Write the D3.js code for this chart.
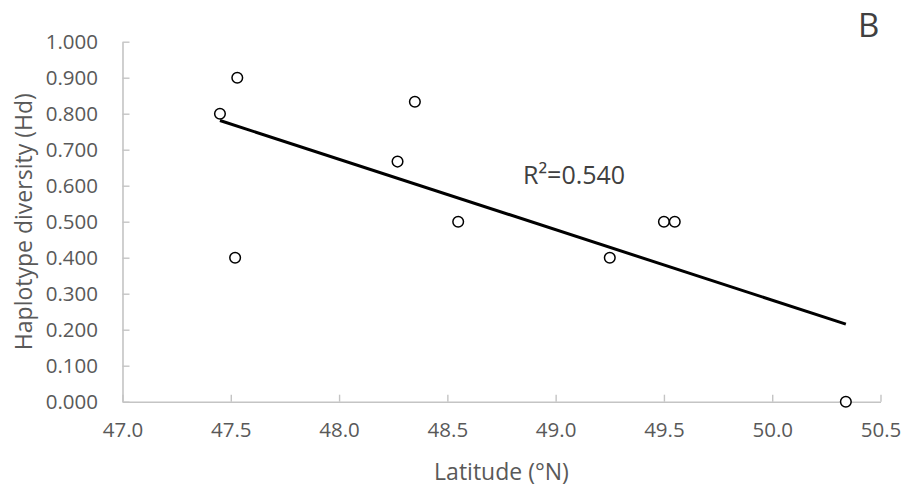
<!DOCTYPE html>
<html>
<head>
<meta charset="utf-8">
<script src="https://cdn.jsdelivr.net/npm/d3@7"></script>
<style>
  html, body { margin: 0; padding: 0; background: #fff; }
  svg { display: block; font-family: "Open Sans", sans-serif; }
</style>
</head>
<body>
<svg id="chart" width="905" height="486"></svg>
<script>
// Data
const latitude = [47.45, 47.53, 47.52, 48.35, 48.27, 48.55, 49.25, 49.50, 49.55, 50.34];
const haplotypeDiversity = [0.800, 0.900, 0.400, 0.833, 0.667, 0.500, 0.400, 0.500, 0.500, 0.000];
const xTicks = [47.0, 47.5, 48.0, 48.5, 49.0, 49.5, 50.0, 50.5];
const yTicks = [0, 0.1, 0.2, 0.3, 0.4, 0.5, 0.6, 0.7, 0.8, 0.9, 1.0];
const r2Label = "R\u00B2=0.540";
const panelLabel = "B";
const xTitle = "Latitude (\u00B0N)";
const yTitle = "Haplotype diversity (Hd)";

const svg = d3.select("#chart");
const margin = { left: 122.5, right: 905 - 880.5, top: 41.7, bottom: 486 - 401.7 };
const W = 905, H = 486;

const x = d3.scaleLinear().domain([47.0, 50.5]).range([margin.left, W - margin.right]);
const y = d3.scaleLinear().domain([0, 1]).range([H - margin.bottom, margin.top]);

const axisColor = "#c4c4c4";
const textColor = "#595959";

// X axis
const gx = svg.append("g")
  .attr("transform", `translate(0,${y(0)})`)
  .call(d3.axisBottom(x).tickValues(xTicks).tickFormat(d3.format(".1f"))
        .tickSizeInner(-7).tickSizeOuter(0).tickPadding(21));
gx.select(".domain").attr("stroke", axisColor).attr("stroke-width", 1.6);
gx.selectAll(".tick line").attr("stroke", axisColor).attr("stroke-width", 1.4);
gx.selectAll(".tick text").attr("fill", textColor).style("font-size", "20.5px")
  .style("font-family", "'Open Sans', sans-serif");

// Y axis
const gy = svg.append("g")
  .attr("transform", `translate(${x(47.0)},0)`)
  .call(d3.axisLeft(y).tickValues(yTicks).tickFormat(d3.format(".3f"))
        .tickSizeInner(-7).tickSizeOuter(0).tickPadding(24.5));
gy.select(".domain").attr("stroke", axisColor).attr("stroke-width", 1.6);
gy.selectAll(".tick line").attr("stroke", axisColor).attr("stroke-width", 1.4);
gy.selectAll(".tick text").attr("fill", textColor).style("font-size", "20.5px")
  .style("font-family", "'Open Sans', sans-serif");

// Linear trend line (least squares from data)
const pts = latitude.map((d, i) => [d, haplotypeDiversity[i]]);
const mx = d3.mean(latitude), my = d3.mean(haplotypeDiversity);
const sxy = d3.sum(pts, p => (p[0] - mx) * (p[1] - my));
const sxx = d3.sum(pts, p => (p[0] - mx) ** 2);
const slope = sxy / sxx, intercept = my - slope * mx;
const [xmin, xmax] = d3.extent(latitude);
const trend = [[xmin, intercept + slope * xmin], [xmax, intercept + slope * xmax]];

svg.append("path")
  .datum(trend)
  .attr("d", d3.line().x(d => x(d[0])).y(d => y(d[1])))
  .attr("fill", "none")
  .attr("stroke", "#000")
  .attr("stroke-width", 3);

// Points
svg.append("g").selectAll("circle")
  .data(pts)
  .join("circle")
  .attr("cx", d => x(d[0]))
  .attr("cy", d => y(d[1]))
  .attr("r", 5.3)
  .attr("fill", "#fff")
  .attr("stroke", "#000")
  .attr("stroke-width", 1.5);

// R^2 label
svg.append("text")
  .attr("x", 523)
  .attr("y", 184)
  .attr("fill", "#404040")
  .style("font-size", "25px")
  .text(r2Label);

// Panel label
svg.append("text")
  .attr("x", 858)
  .attr("y", 36.5)
  .attr("fill", "#404040")
  .style("font-size", "33px")
  .text(panelLabel);

// Axis titles
svg.append("text")
  .attr("x", (x(47.0) + x(50.5)) / 2)
  .attr("y", 480)
  .attr("text-anchor", "middle")
  .attr("fill", textColor)
  .style("font-size", "23px")
  .text(xTitle);

svg.append("text")
  .attr("transform", `translate(32,${(y(0) + y(1)) / 2}) rotate(-90)`)
  .attr("text-anchor", "middle")
  .attr("fill", textColor)
  .style("font-size", "23px")
  .text(yTitle);
</script>
</body>
</html>
